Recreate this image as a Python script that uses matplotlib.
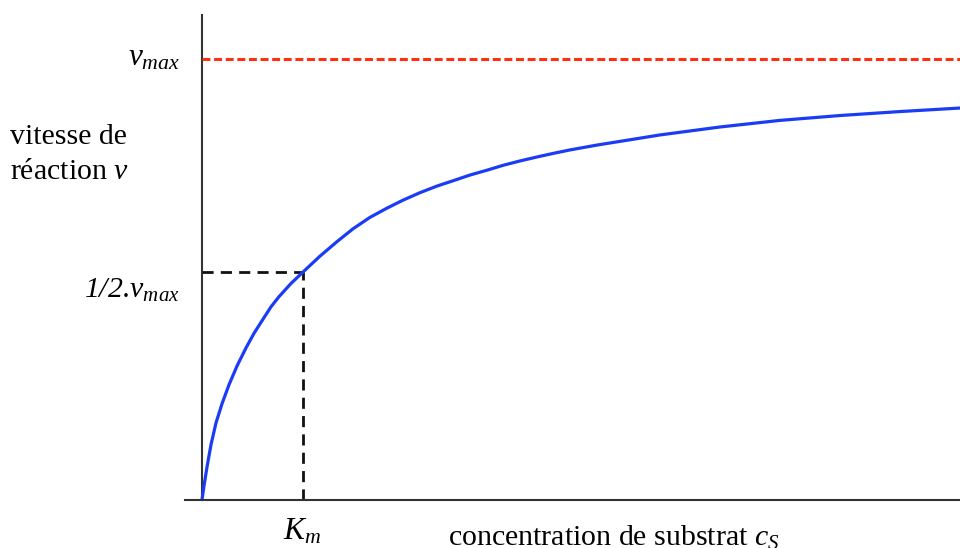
"""Michaelis-Menten curve: reaction rate vs substrate concentration."""

import matplotlib

matplotlib.use("Agg")

import matplotlib.pyplot as plt

plt.rcParams["font.family"] = ["Liberation Serif", "DejaVu Serif"]
plt.rcParams["mathtext.fontset"] = "custom"
plt.rcParams["mathtext.rm"] = "Liberation Serif"
plt.rcParams["mathtext.it"] = "Liberation Serif:italic"

# values (x in units of Km, y in units of vmax)
conc = [0, 0.020, 0.050, 0.089, 0.139, 0.198, 0.267, 0.347, 0.436, 0.515,
        0.604, 0.683, 0.762, 0.881, 1.000, 1.168, 1.337, 1.495, 1.663,
        1.832, 1.990, 2.158, 2.327, 2.485, 2.653, 2.822, 2.980, 3.149,
        3.317, 3.475, 3.644, 3.911, 4.238, 4.535, 5.129, 5.723, 6.317,
        6.911, 7.505]
rate = [0, 0.032, 0.075, 0.125, 0.175, 0.218, 0.261, 0.304, 0.345, 0.378,
        0.410, 0.438, 0.461, 0.491, 0.517, 0.553, 0.586, 0.615, 0.641,
        0.662, 0.680, 0.697, 0.712, 0.724, 0.737, 0.748, 0.759, 0.769,
        0.778, 0.786, 0.794, 0.805, 0.817, 0.828, 0.846, 0.861, 0.872,
        0.881, 0.889]
v_max = 1.0
km = 1.0
half_rate = 0.517

W, H = 960, 548
fig = plt.figure(figsize=(W / 100, H / 100), dpi=100)
fig.patch.set_facecolor("white")

ax = fig.add_axes([185 / W, 48 / H, 775 / W, 485 / H])
ax.set_xlim(-0.168, 7.505)
ax.set_ylim(0, 1.1)
for side in ("top", "right", "left"):
    ax.spines[side].set_visible(False)
ax.spines["bottom"].set_color("#333333")
ax.spines["bottom"].set_linewidth(1.5)
ax.set_xticks([])
ax.set_yticks([])

# vertical axis line starting at x = 0
ax.plot([0, 0], [0, 1.1], color="#333333", lw=1.5, clip_on=False)

ax.plot([0, conc[-1]], [v_max, v_max], color="#ff3010", lw=2.2,
        dashes=(2.6, 1.2))
ax.plot([0, km], [half_rate, half_rate], color="#111111", lw=2.0,
        dashes=(4.0, 2.6))
ax.plot([km, km], [0, half_rate], color="#111111", lw=2.0,
        dashes=(4.0, 2.6))
ax.plot(conc, rate, color="#1a3cf5", lw=2.3, solid_capstyle="round",
        solid_joinstyle="round")


def px(x, y):
    return x / W, 1 - y / H


fs = 21.5
fig.text(*px(180, 58), r"$v_{max}$", fontsize=fs + 1, ha="right",
         va="center")
fig.text(*px(10, 137), "vitesse de", fontsize=fs, ha="left", va="center")
fig.text(*px(10, 172), r"réaction $v$", fontsize=fs, ha="left",
         va="center")
fig.text(*px(180, 290), r"1/2.$v_{max}$", fontsize=fs, style="italic",
         ha="right", va="center")
fig.text(*px(302, 532), r"$K_m$", fontsize=fs + 1, ha="center",
         va="center")
fig.text(*px(448, 546), r"concentration de substrat $c_S$", fontsize=fs,
         ha="left", va="baseline")

fig.savefig("out.png", dpi=100)
